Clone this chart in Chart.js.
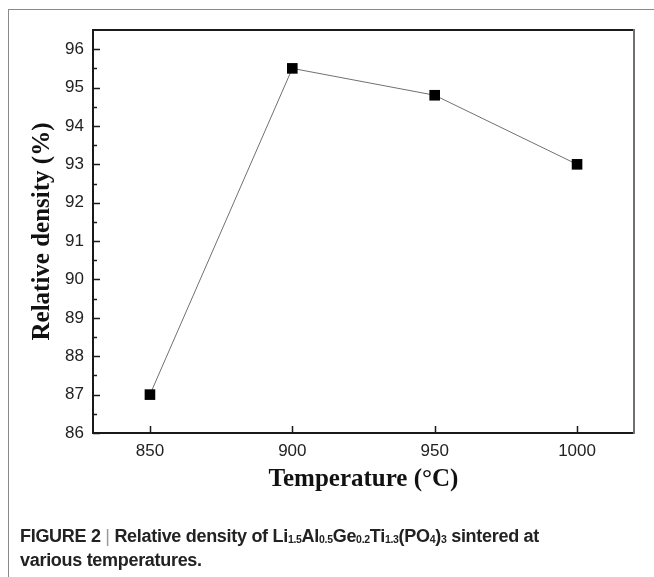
<!DOCTYPE html>
<html>
<head>
<meta charset="utf-8">
<script src="https://cdn.jsdelivr.net/npm/chart.js@4"></script>
<style>
  html, body { margin: 0; padding: 0; background: #fff; }
  #wrap { position: relative; width: 654px; height: 577px; overflow: hidden; }
  #frame { position: absolute; left: 8px; top: 9px; right: -4px; bottom: -4px;
           border-left: 1.5px solid #8a8a8a; border-top: 1.5px solid #8a8a8a; }
  #chart { position: absolute; left: 0; top: 0; }
  #caption { position: absolute; left: 20px; top: 524px; width: 630px;
             font-family: "Liberation Sans", Arial, sans-serif; font-weight: bold;
             font-size: 18px; line-height: 24px; color: #222; letter-spacing: -0.3px; }
  #caption sub { font-size: 10.5px; vertical-align: -1px; line-height: 0; }
  #caption .bar { font-weight: normal; color: #999; }
</style>
</head>
<body>
<div id="wrap">
  <div id="frame"></div>
  <canvas id="chart" width="654" height="577"></canvas>
  <div id="caption">FIGURE 2 <span class="bar">|</span> Relative density of Li<sub>1.5</sub>Al<sub>0.5</sub>Ge<sub>0.2</sub>Ti<sub>1.3</sub>(PO<sub>4</sub>)<sub>3</sub> sintered at<br>various temperatures.</div>
</div>
<script>
const temps = [850, 900, 950, 1000]
const density = [87, 95.5, 94.8, 93]
const xTicks = [850, 900, 950, 1000]
const yTicks = [86, 87, 88, 89, 90, 91, 92, 93, 94, 95, 96]

// box around the plot plus inward tick marks
const frameTicks = {
  id: 'frameTicks',
  afterDatasetsDraw(chart) {
    const { ctx, chartArea: a, scales } = chart
    ctx.save()
    ctx.lineCap = 'square'
    ctx.strokeStyle = '#1a1a1a'
    ctx.lineWidth = 2
    ctx.beginPath()
    ctx.moveTo(a.right, a.top); ctx.lineTo(a.left, a.top)
    ctx.lineTo(a.left, a.bottom); ctx.lineTo(a.right, a.bottom)
    ctx.stroke()
    ctx.strokeStyle = '#707070'
    ctx.beginPath()
    ctx.moveTo(a.right, a.top); ctx.lineTo(a.right, a.bottom)
    ctx.stroke()

    ctx.strokeStyle = '#1a1a1a'
    ctx.lineWidth = 1.5
    ctx.lineCap = 'butt'
    ctx.beginPath()
    yTicks.forEach(v => {
      const y = Math.round(scales.y.getPixelForValue(v)) + 0.5
      ctx.moveTo(a.left, y); ctx.lineTo(a.left + 7, y)
      const ym = Math.round(scales.y.getPixelForValue(v + 0.5)) + 0.5
      if (v + 0.5 < scales.y.max) { ctx.moveTo(a.left, ym); ctx.lineTo(a.left + 4, ym) }
    })
    xTicks.forEach(v => {
      const x = Math.round(scales.x.getPixelForValue(v)) + 0.5
      ctx.moveTo(x, a.bottom); ctx.lineTo(x, a.bottom - 7)
    })
    ctx.stroke()
    ctx.restore()
  }
}

const tickFont = { family: '"Liberation Sans", Arial, sans-serif', size: 17 }
const titleFont = { family: '"Liberation Serif", "Times New Roman", serif', size: 25, weight: 'bold' }

new Chart(document.getElementById('chart'), {
  type: 'scatter',
  data: {
    datasets: [{
      data: temps.map((t, i) => ({ x: t, y: density[i] })),
      showLine: true,
      borderColor: '#707070',
      borderWidth: 1,
      pointStyle: 'rect',
      pointRadius: 7.5,
      pointBackgroundColor: '#000',
      pointBorderColor: '#000',
      pointBorderWidth: 0
    }]
  },
  options: {
    responsive: false,
    animation: false,
    layout: { padding: { left: 0, top: 30, right: 20, bottom: 0 } },
    plugins: { legend: { display: false }, tooltip: { enabled: false } },
    scales: {
      x: {
        type: 'linear',
        min: 830,
        max: 1020,
        grid: { display: false },
        border: { display: false },
        afterBuildTicks: s => { s.ticks = xTicks.map(v => ({ value: v })) },
        afterFit: s => { s.height = 144 },
        ticks: {
          padding: 0,
          color: '#222',
          font: tickFont,
          callback: v => String(v)
        },
        title: {
          display: true,
          text: 'Temperature (°C)',
          color: '#111',
          padding: { top: 0, bottom: 82 },
          font: titleFont
        }
      },
      y: {
        min: 86,
        max: 96.5,
        grid: { display: false },
        border: { display: false },
        afterBuildTicks: s => { s.ticks = yTicks.map(v => ({ value: v })) },
        afterFit: s => { s.width = 93 },
        ticks: {
          padding: 1,
          color: '#222',
          font: tickFont,
          callback: v => String(v)
        },
        title: {
          display: true,
          text: 'Relative density (%)',
          color: '#111',
          padding: { top: 28 },
          font: titleFont
        }
      }
    }
  },
  plugins: [frameTicks]
})
</script>
</body>
</html>
